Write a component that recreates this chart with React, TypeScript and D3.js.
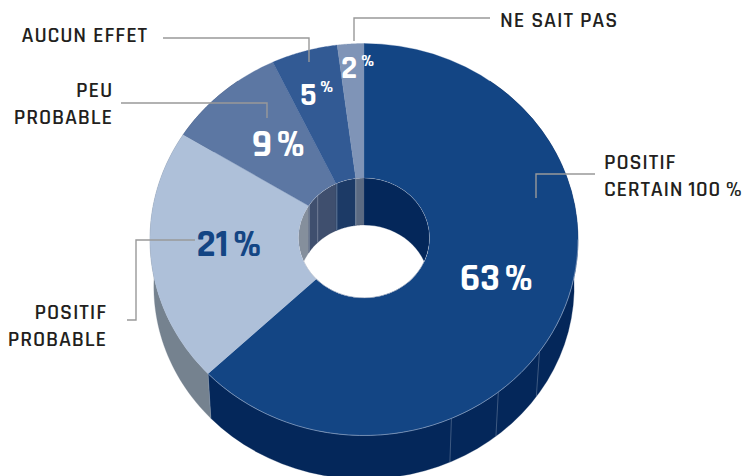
import React from "react";
import * as d3 from "d3";

const categories = ["POSITIF CERTAIN 100 %", "POSITIF PROBABLE", "PEU PROBABLE", "AUCUN EFFET", "NE SAIT PAS"];
const shares = [63, 21, 9, 5, 2];
const topColors = ["#134584", "#aec0d9", "#5c77a3", "#325a94", "#7f94b7"];
const outerWallColors = ["#04275a", "#75828f", "#3f4f6e", "#1c3a66", "#5b6a82"];
const innerWallColors = ["#04275a", "#858f9c", "#3f4f6e", "#1c3a66", "#5b6a82"];
const outerSeams = [34.7, 39.2, 43.3, 63];
const innerSeams = [84.4, 87.5, 93.2, 98];

const W = 746, H = 476;
const cx = 364, cy = 239.5, rx = 214, ry = 196;
const hcy = 238, hrx = 65.5, hry = 60;
const depth = 47;
const shrink = 0.982;
const font = "Rajdhani, Roboto, sans-serif";
const labelStyle = { fontFamily: font, fontSize: 22, fontWeight: 600, fill: "#231f20", letterSpacing: 0.85 };
const valueStyle = { fontFamily: font, fontWeight: 800, wordSpacing: -4.5 };

const pieGen = d3.pie<number>().sort(null).value((d) => d);
const arcs = pieGen(shares);

const oP = (a: number, z = 0): [number, number] => {
  const k = z ? shrink : 1;
  return [cx + rx * k * Math.sin(a), cy - ry * k * Math.cos(a) + z];
};
const iP = (a: number, z = 0): [number, number] => [cx + hrx * Math.sin(a), hcy - hry * Math.cos(a) + z];
const line = d3.line();
const sample = (a0: number, a1: number) => d3.range(0, 49).map((i) => a0 + ((a1 - a0) * i) / 48);

function wall(P: typeof oP, a0: number, a1: number) {
  const s = sample(a0, a1);
  return line([...s.map((a) => P(a, 0)), ...s.slice().reverse().map((a) => P(a, depth))]) + "Z";
}
function wedge(a0: number, a1: number) {
  const s = sample(a0, a1);
  return line([...s.map((a) => oP(a)), ...s.slice().reverse().map((a) => iP(a))]) + "Z";
}
const toAngle = d3.scaleLinear().domain([0, 100]).range([0, 2 * Math.PI]);
const holePath = line(sample(0, 2 * Math.PI).map((a) => iP(a))) + "Z";

const leaders = [
  "M163,38H309V62",
  "M121,103H267V118",
  "M354,41V18H490",
  "M536,198V174H595",
  "M195,240H136V320H127",
];

export default function App() {
  return (
    <svg width={W} height={H} style={{ position: "absolute", left: 0, top: 0, background: "#fff" }}>
      <defs>
        <clipPath id="hole"><path d={holePath} /></clipPath>
      </defs>
      {arcs.map((a, i) => {
        const lo = Math.max(a.startAngle, toAngle(10));
        const hi = Math.min(a.endAngle, toAngle(90));
        return hi > lo ? <path key={i} d={wall(oP, lo, hi)} fill={outerWallColors[i]} stroke={outerWallColors[i]} strokeWidth={0.3} /> : null;
      })}
      {outerSeams.map((p) => {
        const a = toAngle(p);
        return <path key={p} d={line([oP(a), oP(a, depth)])!} stroke="#8fa0b8" strokeWidth={0.7} opacity={0.6} />;
      })}
      {arcs.map((a, i) => (
        <path key={i} d={wedge(a.startAngle, a.endAngle)} fill={topColors[i]} stroke={topColors[i]} strokeWidth={0.3} />
      ))}
      <path d={line(sample(toAngle(25), toAngle(63)).map((a) => oP(a)))!} fill="none" stroke="#8fa5c4" strokeWidth={0.7} />
      <path d={holePath} fill="#fff" />
      <g clipPath="url(#hole)">
        {arcs.map((a, i) => (
          <path key={i} d={wall(iP, a.startAngle, a.endAngle)} fill={innerWallColors[i]} stroke={innerWallColors[i]} strokeWidth={0.3} />
        ))}
        <path d={wall(iP, Math.PI / 2, (3 * Math.PI) / 2)} fill="#fff" />
        {innerSeams.map((p) => {
          const a = toAngle(p);
          return <path key={p} d={line([iP(a), iP(a, depth)])!} stroke="#b9c2d0" strokeWidth={0.7} opacity={0.6} />;
        })}
      </g>
      <path d={holePath} fill="none" stroke="#8fa5c4" strokeWidth={0.5} opacity={0.5} />

      {leaders.map((d, i) => <path key={i} d={d} fill="none" stroke="#999" strokeWidth={1.4} />)}

      <text x={148} y={42} textAnchor="end" {...labelStyle}>{categories[3]}</text>
      <text x={113} y={97} textAnchor="end" {...labelStyle}>PEU</text>
      <text x={113} y={124} textAnchor="end" {...labelStyle}>PROBABLE</text>
      <text x={500} y={27} {...labelStyle}>{categories[4]}</text>
      <text x={604} y={169} {...labelStyle}>POSITIF</text>
      <text x={604} y={196} {...labelStyle} letterSpacing={0.7} wordSpacing={-1}>CERTAIN 100 %</text>
      <text x={107} y={319} textAnchor="end" {...labelStyle}>POSITIF</text>
      <text x={107} y={346} textAnchor="end" {...labelStyle}>PROBABLE</text>

      <text x={496.5} y={290} textAnchor="middle" fontSize={39} fill="#fff" {...valueStyle}>{shares[0]} %</text>
      <text x={229} y={256} textAnchor="middle" fontSize={39} fill="#134584" {...valueStyle}>{shares[1]} %</text>
      <text x={278.5} y={156} textAnchor="middle" fontSize={39} fill="#fff" {...valueStyle}>{shares[2]} %</text>
      <text x={300} y={105} fontSize={33} fill="#fff" {...valueStyle}>{shares[3]}</text>
      <text x={320} y={92} fontSize={18} fill="#fff" {...valueStyle}>%</text>
      <text x={341} y={78} fontSize={33} fill="#fff" {...valueStyle}>{shares[4]}</text>
      <text x={361} y={66} fontSize={18} fill="#fff" {...valueStyle}>%</text>
    </svg>
  );
}
